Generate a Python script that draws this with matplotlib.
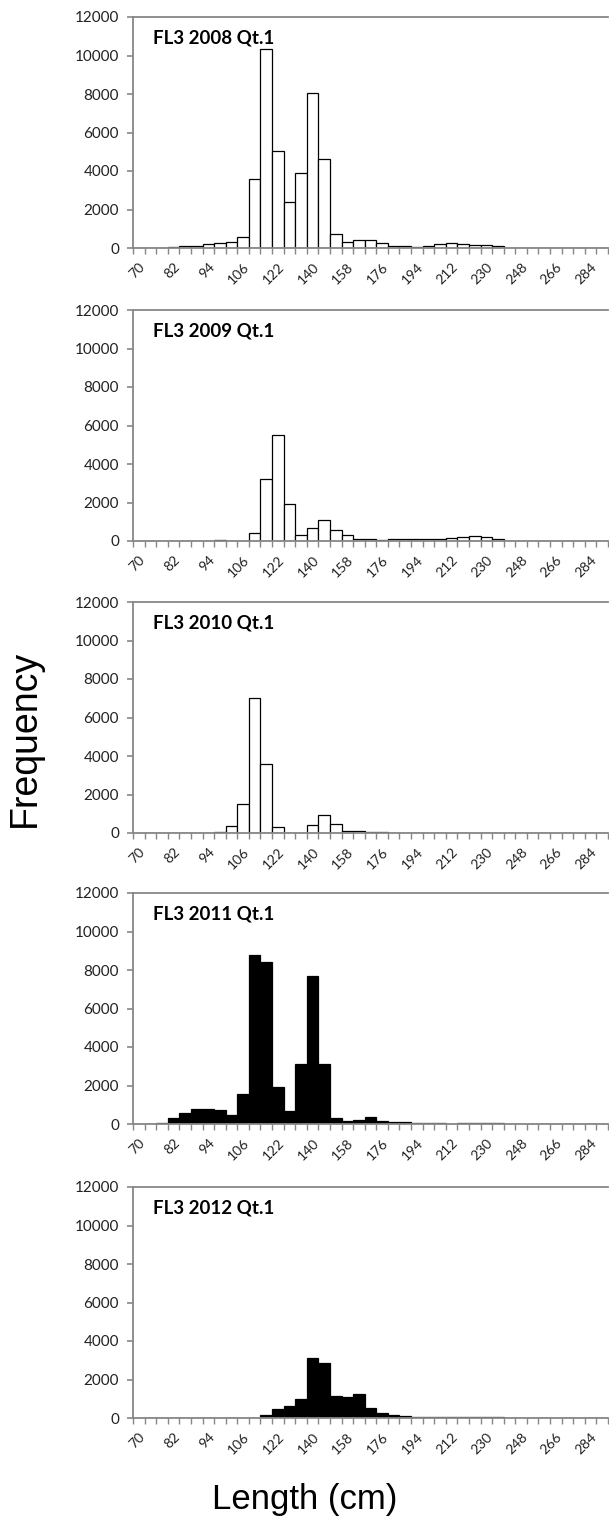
import matplotlib
matplotlib.use("Agg")
import matplotlib.pyplot as plt
import numpy as np

# Length classes (cm), one bar per class
length_classes = [70, 74, 78, 82, 86, 90, 94, 98, 102, 106, 110, 116,
                  122, 128, 134, 140, 146, 152, 158, 164, 170, 176, 182,
                  188, 194, 200, 206, 212, 218, 224, 230, 236, 242, 248,
                  254, 260, 266, 272, 278, 284, 290]

# Classes that carry a label on the x axis
labelled_classes = [70, 82, 94, 106, 122, 140, 158, 176, 194, 212, 230,
                    248, 266, 284]

panel_titles = ["FL3 2008 Qt.1", "FL3 2009 Qt.1", "FL3 2010 Qt.1",
                "FL3 2011 Qt.1", "FL3 2012 Qt.1"]

freq_2008 = [0, 0, 0, 40, 90, 120, 210, 250, 330, 550, 3580, 10350,
             5020, 2390, 3880, 8070, 4640, 720, 300, 420, 390, 240, 120,
             90, 70, 100, 220, 260, 220, 170, 150, 120, 0, 0,
             0, 0, 0, 0, 0, 0, 0]
freq_2009 = [0, 0, 0, 0, 0, 0, 0, 50, 0, 0, 400, 3200,
             5500, 1900, 300, 680, 1080, 590, 330, 120, 90, 60, 80,
             90, 90, 80, 110, 170, 230, 250, 200, 120, 0, 0,
             0, 0, 0, 0, 0, 0, 0]
freq_2010 = [0, 0, 0, 0, 0, 0, 0, 50, 380, 1500, 7010, 3600,
             300, 0, 20, 400, 940, 450, 90, 90, 70, 40, 15,
             0, 0, 0, 0, 0, 0, 0, 0, 0, 0, 0,
             0, 0, 0, 0, 0, 0, 0]
freq_2011 = [0, 0, 40, 300, 570, 800, 800, 730, 470, 1550, 8800, 8430,
             1940, 680, 3130, 7670, 3130, 310, 140, 225, 350, 160, 100,
             90, 50, 30, 30, 20, 30, 40, 40, 30, 20, 20,
             20, 20, 0, 0, 0, 0, 0]
freq_2012 = [0, 0, 0, 0, 0, 0, 0, 0, 0, 20, 20, 150,
             470, 630, 1000, 3120, 2860, 1130, 1090, 1250, 500, 240, 140,
             100, 60, 40, 30, 30, 50, 30, 40, 40, 20, 10,
             0, 0, 0, 0, 0, 0, 0]

series = [freq_2008, freq_2009, freq_2010, freq_2011, freq_2012]
fills = ["white", "white", "white", "black", "black"]

y_ticks = [0, 2000, 4000, 6000, 8000, 10000, 12000]

W, H = 609, 1521
fig = plt.figure(figsize=(W / 100, H / 100), dpi=100)

axis_grey = "#878787"
left, right = 133, 608
tops = [17, 310, 602, 893, 1187]
height = 231

x = np.arange(len(length_classes))
label_pos = [length_classes.index(v) for v in labelled_classes]

for title, vals, fill, top in zip(panel_titles, series, fills, tops):
    ax = fig.add_axes([left / W, 1 - (top + height) / H,
                       (right - left) / W, height / H])
    ax.bar(x, vals, width=1.0, color=fill, edgecolor="black",
           linewidth=0.9, zorder=2)
    ax.set_xlim(-0.5, len(length_classes) - 0.5)
    ax.set_ylim(0, 12000)

    ax.spines["right"].set_visible(False)
    for side in ("left", "bottom", "top"):
        ax.spines[side].set_color(axis_grey)
        ax.spines[side].set_linewidth(1.3)
    ax.spines["bottom"].set_zorder(3)

    ax.set_yticks(y_ticks)
    ax.set_yticklabels([str(v) for v in y_ticks], family="Lato",
                       fontsize=11, color="#222222")
    ax.tick_params(axis="y", direction="out", length=4, width=1.2,
                   color=axis_grey, pad=6)

    # tick marks at class boundaries, labels at class centres
    ax.set_xticks(np.arange(len(length_classes) + 1) - 0.5)
    ax.set_xticklabels([])
    ax.tick_params(axis="x", which="major", direction="out", length=4,
                   width=1.0, color=axis_grey)
    ax.set_xticks(label_pos, minor=True)
    ax.set_xticklabels([str(v) for v in labelled_classes], minor=True,
                       rotation=45, ha="right", va="top",
                       rotation_mode="anchor", family="Lato",
                       fontsize=10, color="#222222")
    ax.tick_params(axis="x", which="minor", length=0, pad=9)

    ax.text(20 / (right - left), 1 - 21 / height, title,
            transform=ax.transAxes, family="Lato", fontweight="bold",
            fontsize=13.5, va="center", ha="left", color="black")

fig.text(25 / W, 1 - 738 / H, "Frequency", rotation=90,
         family="Liberation Sans", fontsize=27, ha="center", va="center")
fig.text(305 / W, 1 - 1500 / H, "Length (cm)",
         family="Liberation Sans", fontsize=25, ha="center", va="center")

fig.savefig("out.png", dpi=100, facecolor="white")
